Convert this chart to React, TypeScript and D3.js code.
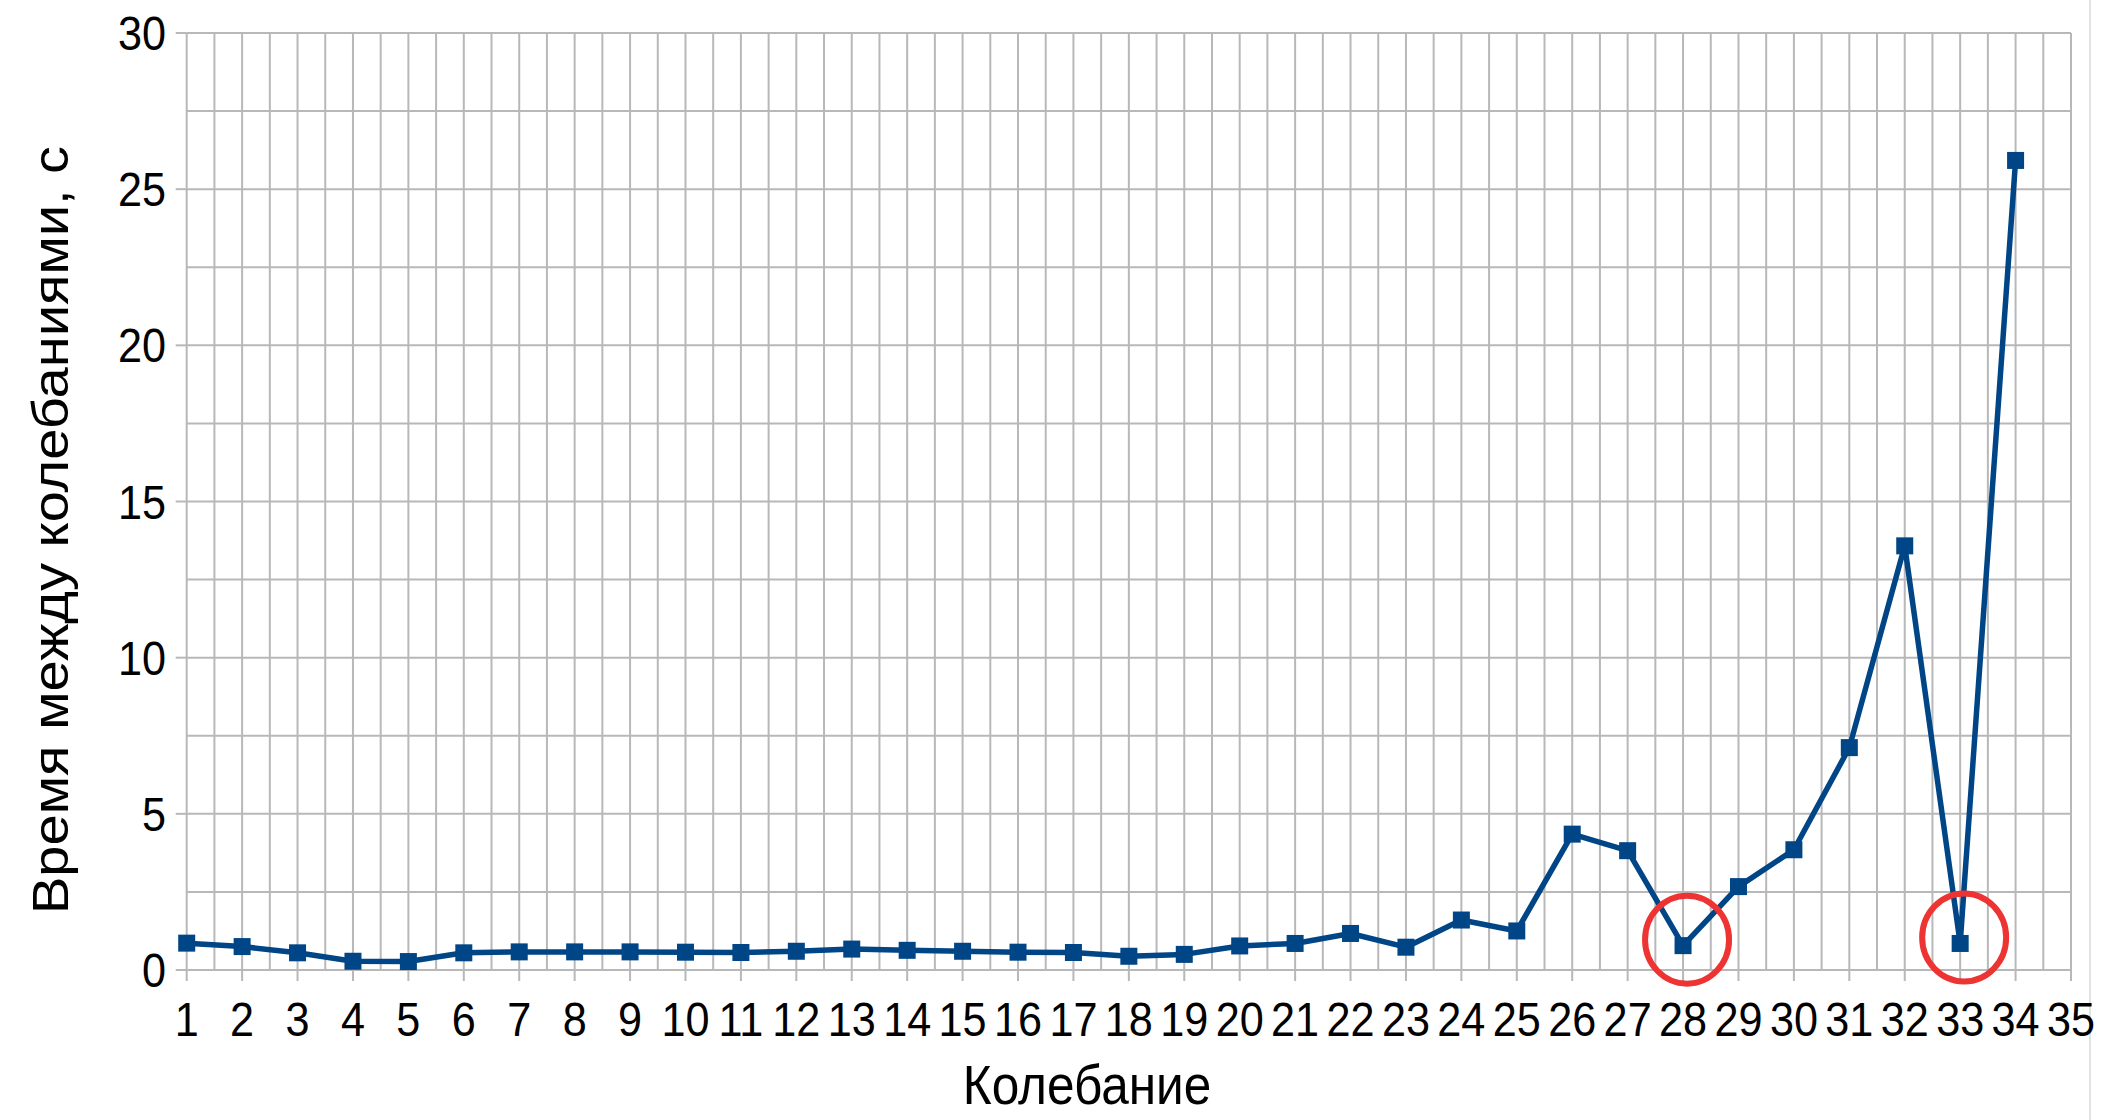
import React, { useEffect, useRef } from "react";
import * as d3 from "d3";

const categories = [
  "1", "2", "3", "4", "5", "6", "7", "8", "9", "10",
  "11", "12", "13", "14", "15", "16", "17", "18", "19", "20",
  "21", "22", "23", "24", "25", "26", "27", "28", "29", "30",
  "31", "32", "33", "34", "35",
];

const values = [
  0.86, 0.75, 0.55, 0.28, 0.27, 0.55, 0.58, 0.58, 0.58, 0.57,
  0.56, 0.6, 0.67, 0.63, 0.6, 0.57, 0.56, 0.44, 0.5, 0.77,
  0.85, 1.17, 0.73, 1.6, 1.25, 4.35, 3.82, 0.78, 2.67, 3.85,
  7.12, 13.58, 0.85, 25.92,
];

const yTicks = [0, 5, 10, 15, 20, 25, 30];
const yMinor = [2.5, 7.5, 12.5, 17.5, 22.5, 27.5];

// oscillations marked with red circles
const highlighted = ["28", "33"];

const FONT = "'Liberation Sans', Arial, sans-serif";
const SQUEEZE = 0.9; // source image is a bit condensed horizontally

const App = () => {
  const ref = useRef<HTMLDivElement>(null);

  useEffect(() => {
    if (!ref.current) return;
    document.body.style.margin = "0";
    d3.select(ref.current).select("svg").remove();

    const W = 2101;
    const H = 1120;
    const left = 186.7;
    const right = 2071;
    const top = 33;
    const bottom = 970;

    const svg = d3
      .select(ref.current)
      .append("svg")
      .attr("width", W)
      .attr("height", H)
      .style("display", "block")
      .style("background", "#fff");

    const x = d3.scalePoint<string>().domain(categories).range([left, right]);
    const y = d3.scaleLinear().domain([0, 30]).range([bottom, top]);
    const step = x.step();

    const grid = svg.append("g").attr("stroke", "#b8b8b8").attr("stroke-width", 2);

    // horizontal grid (major + minor)
    grid
      .selectAll(".hgrid")
      .data([...yTicks, ...yMinor])
      .enter()
      .append("line")
      .attr("x1", left)
      .attr("x2", right)
      .attr("y1", (d) => y(d))
      .attr("y2", (d) => y(d));

    // y tick stubs
    grid
      .selectAll(".ytick")
      .data(yTicks)
      .enter()
      .append("line")
      .attr("x1", left - 11)
      .attr("x2", left)
      .attr("y1", (d) => y(d))
      .attr("y2", (d) => y(d));

    // vertical grid at categories and half-steps
    const vpos: number[] = [];
    categories.forEach((c, i) => {
      vpos.push(x(c) as number);
      if (i < categories.length - 1) vpos.push((x(c) as number) + step / 2);
    });
    grid
      .selectAll(".vgrid")
      .data(vpos)
      .enter()
      .append("line")
      .attr("x1", (d) => d)
      .attr("x2", (d) => d)
      .attr("y1", top)
      .attr("y2", bottom);

    // x tick marks
    grid
      .selectAll(".xtick")
      .data(categories)
      .enter()
      .append("line")
      .attr("x1", (d) => x(d) as number)
      .attr("x2", (d) => x(d) as number)
      .attr("y1", bottom)
      .attr("y2", bottom + 11);

    // faint page border on the right
    svg
      .append("line")
      .attr("x1", 2090)
      .attr("x2", 2090)
      .attr("y1", 0)
      .attr("y2", H)
      .attr("stroke", "#e2e2e2")
      .attr("stroke-width", 2);

    // y labels
    svg
      .selectAll(".ylabel")
      .data(yTicks)
      .enter()
      .append("text")
      .attr("transform", (d) => `translate(166, ${y(d) + 17}) scale(${SQUEEZE}, 1)`)
      .attr("text-anchor", "end")
      .style("font-family", FONT)
      .style("font-size", "48px")
      .style("fill", "#000")
      .text((d) => d);

    // x labels
    svg
      .selectAll(".xlabel")
      .data(categories)
      .enter()
      .append("text")
      .attr("transform", (d) => `translate(${x(d)}, 1036) scale(${SQUEEZE}, 1)`)
      .attr("text-anchor", "middle")
      .style("font-family", FONT)
      .style("font-size", "48px")
      .style("fill", "#000")
      .text((d) => d);

    // axis titles
    svg
      .append("text")
      .attr("transform", `translate(68, 530) scale(${SQUEEZE}, 1) rotate(-90)`)
      .attr("text-anchor", "middle")
      .style("font-family", FONT)
      .style("font-size", "56px")
      .text("Время между колебаниями, с");

    svg
      .append("text")
      .attr("transform", `translate(1087, 1104) scale(${SQUEEZE}, 1)`)
      .attr("text-anchor", "middle")
      .style("font-family", FONT)
      .style("font-size", "55px")
      .text("Колебание");

    const pts = values.map((v, i) => ({ c: categories[i], v }));

    const line = d3
      .line<{ c: string; v: number }>()
      .x((d) => x(d.c) as number)
      .y((d) => y(d.v));

    svg
      .append("path")
      .datum(pts)
      .attr("fill", "none")
      .attr("stroke", "#004586")
      .attr("stroke-width", 5.5)
      .attr("stroke-linejoin", "round")
      .attr("d", line);

    const ms = 17;
    svg
      .selectAll(".marker")
      .data(pts)
      .enter()
      .append("rect")
      .attr("x", (d) => (x(d.c) as number) - ms / 2)
      .attr("y", (d) => y(d.v) - ms / 2)
      .attr("width", ms)
      .attr("height", ms)
      .attr("fill", "#004586");

    svg
      .selectAll(".mark")
      .data(pts.filter((d) => highlighted.includes(d.c)))
      .enter()
      .append("ellipse")
      .attr("cx", (d) => (x(d.c) as number) + 4)
      .attr("cy", (d) => y(d.v) - 6)
      .attr("rx", 42)
      .attr("ry", 44)
      .attr("fill", "none")
      .attr("stroke", "#ee3333")
      .attr("stroke-width", 6);
  }, []);

  return <div ref={ref} style={{ width: 2101, height: 1120 }}></div>;
};

export default App;
